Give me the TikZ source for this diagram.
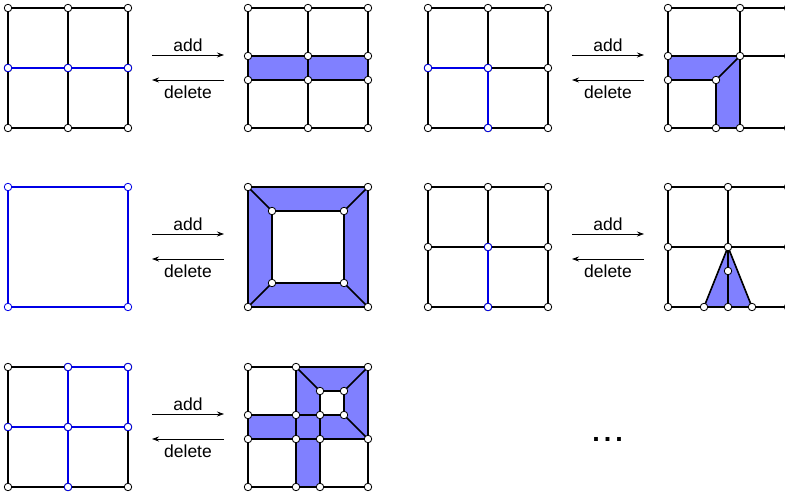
\documentclass[tikz,border=0pt]{standalone}
\usepackage{fontspec}
\setmainfont{Liberation Sans}
\usetikzlibrary{arrows.meta,positioning}
\definecolor{selblue}{RGB}{0,0,230}
\definecolor{bandblue}{RGB}{128,128,255}

% 3x3 grid helpers
\newcommand\gridpts[1]{%
  \foreach \i in {0,1,2}{\foreach \j in {0,1,2}{\coordinate (#1\i\j) at (60*\i,60*\j);}}}
\newcommand\gridlines[1]{%
  \draw[edge] (#100) rectangle (#122) (#110) -- (#112) (#101) -- (#121);}
\newcommand\gridvtx[1]{%
  \foreach \i in {0,1,2}{\foreach \j in {0,1,2}{\node[vtx] at (#1\i\j) {};}}}

\begin{document}
\begin{tikzpicture}[x=1pt, y=-1pt,
    edge/.style={line width=1.6pt, black},
    seledge/.style={line width=1.7pt, selblue},
    band/.style={fill=bandblue},
    vtx/.style={circle, draw=black, fill=white, line width=0.8pt, inner sep=0pt, minimum size=7.5pt},
    selvtx/.style={vtx, draw=selblue},
    opt/.style={-{Stealth[length=7pt,width=5pt]}, line width=0.7pt},
    optlabel/.style={font=\fontsize{17.5}{20}\selectfont, inner sep=3pt}
]
    \useasboundingbox (0,0) rectangle (785,491);
    \clip (0,0) rectangle (785,491);

    % Row 1: horizontal line
    \begin{scope}[shift={(8,8)}]
        \gridpts{p}
        \gridlines{p}
        \draw[seledge] (p01) -- (p21);
        \gridvtx{p}
        \foreach \v in {p01,p11,p21} \node[selvtx] at (\v) {};
    \end{scope}

    \begin{scope}[shift={(248,8)}]
        \foreach \i in {0,1,2}{\foreach \j/\yy in {0/0,1/48,2/72,3/120}{\coordinate (q\i\j) at (60*\i,\yy);}}
        \fill[band] (q01) rectangle (q22);
        \draw[edge] (q00) rectangle (q23) (q10) -- (q13) (q01) -- (q21) (q02) -- (q22);
        \foreach \i in {0,1,2}{\foreach \j in {0,1,2,3}{\node[vtx] at (q\i\j) {};}}
    \end{scope}

    % Row 1: corner path
    \begin{scope}[shift={(428,8)}]
        \gridpts{r}
        \gridlines{r}
        \draw[seledge] (r01) -- (r11) -- (r12);
        \gridvtx{r}
        \foreach \v in {r01,r11,r12} \node[selvtx] at (\v) {};
    \end{scope}

    \begin{scope}[shift={(668,8)}]
        \coordinate (s00) at (0,0);   \coordinate (s10) at (72,0);  \coordinate (s20) at (120,0);
        \coordinate (s01) at (0,48);  \coordinate (s11) at (72,48); \coordinate (s21) at (120,48);
        \coordinate (s02) at (0,72);  \coordinate (s12) at (48,72);
        \coordinate (s03) at (0,120); \coordinate (s13) at (48,120);
        \coordinate (s23) at (72,120); \coordinate (s33) at (120,120);
        \fill[band] (s01) -- (s11) -- (s23) -- (s13) -- (s12) -- (s02) -- cycle;
        \draw[edge] (s00) -- (s20) -- (s33) -- (s03) -- cycle
            (s01) -- (s21) (s02) -- (s12) -- (s13) (s10) -- (s23) (s11) -- (s12);
        \foreach \v in {s00,s10,s20,s01,s11,s21,s02,s12,s03,s13,s23,s33} \node[vtx] at (\v) {};
    \end{scope}

    % Row 2: closed cycle
    \begin{scope}[shift={(8,187)}]
        \coordinate (t00) at (0,0);   \coordinate (t10) at (120,0);
        \coordinate (t01) at (0,120); \coordinate (t11) at (120,120);
        \draw[seledge] (t00) rectangle (t11);
        \foreach \v in {t00,t10,t01,t11} \node[selvtx] at (\v) {};
    \end{scope}

    \begin{scope}[shift={(248,187)}]
        \coordinate (u00) at (0,0);   \coordinate (u10) at (120,0);
        \coordinate (u01) at (0,120); \coordinate (u11) at (120,120);
        \coordinate (uA) at (24,24);  \coordinate (uB) at (96,24);
        \coordinate (uC) at (96,96);  \coordinate (uD) at (24,96);
        \fill[band, even odd rule] (u00) rectangle (u11) (uA) rectangle (uC);
        \draw[edge] (u00) rectangle (u11) (uA) rectangle (uC)
            (u00) -- (uA) (u10) -- (uB) (u11) -- (uC) (u01) -- (uD);
        \foreach \v in {u00,u10,u01,u11,uA,uB,uC,uD} \node[vtx] at (\v) {};
    \end{scope}

    % Row 2: dangling edge
    \begin{scope}[shift={(428,187)}]
        \gridpts{v}
        \gridlines{v}
        \draw[seledge] (v11) -- (v12);
        \gridvtx{v}
        \foreach \v in {v11,v12} \node[selvtx] at (\v) {};
    \end{scope}

    \begin{scope}[shift={(668,187)}]
        \gridpts{w}
        \coordinate (wL) at (36,120); \coordinate (wR) at (84,120); \coordinate (wM) at (60,84);
        \fill[band] (w11) -- (wL) -- (wR) -- cycle;
        \gridlines{w}
        \draw[edge] (wL) -- (w11) -- (wR);
        \gridvtx{w}
        \foreach \v in {wL,wR,wM} \node[vtx] at (\v) {};
    \end{scope}

    % Row 3: mixed path
    \begin{scope}[shift={(8,367)}]
        \gridpts{m}
        \gridlines{m}
        \draw[seledge] (m10) -- (m20) -- (m21) (m01) -- (m21) (m10) -- (m12);
        \gridvtx{m}
        \foreach \v in {m10,m20,m01,m11,m21,m12} \node[selvtx] at (\v) {};
    \end{scope}

    \begin{scope}[shift={(248,367)}]
        \foreach \i/\xx in {0/0,1/48,2/72,3/96,4/120}{%
            \foreach \j/\yy in {0/0,1/24,2/48,3/72,4/120}{\coordinate (n\i\j) at (\xx,\yy);}}
        \fill[band, even odd rule] (n02) -- (n12) -- (n10) -- (n40) -- (n43) -- (n23) -- (n24)
            -- (n14) -- (n13) -- (n03) -- cycle (n21) rectangle (n32);
        \draw[edge] (n00) rectangle (n44) (n02) -- (n32) (n03) -- (n43) (n10) -- (n14)
            (n21) -- (n24) (n21) -- (n31) -- (n32) (n10) -- (n21) (n40) -- (n31) (n32) -- (n43);
        \foreach \v in {n00,n10,n40,n21,n31,n02,n12,n22,n32,n03,n13,n23,n43,n04,n14,n24,n44}
            \node[vtx] at (\v) {};
    \end{scope}

    % add / delete operations
    \foreach \ox/\oy [count=\k] in {152/68, 572/68, 152/247, 572/247, 152/427} {
        \coordinate (add\k-l) at (\ox,\oy-13);
        \coordinate (add\k-r) at (\ox+72,\oy-13);
        \coordinate (del\k-l) at (\ox,\oy+12);
        \coordinate (del\k-r) at (\ox+72,\oy+12);
        \draw[opt] (add\k-l) -- node[optlabel, above] {add} (add\k-r);
        \draw[opt] (del\k-r) -- node[optlabel, below, inner sep=5pt] {delete} (del\k-l);
    }

    \node[font=\fontsize{27}{30}\selectfont\bfseries, anchor=base] (more) at (607.5,441) {.\hspace{4pt}.\hspace{4pt}.};

\end{tikzpicture}
\end{document}
